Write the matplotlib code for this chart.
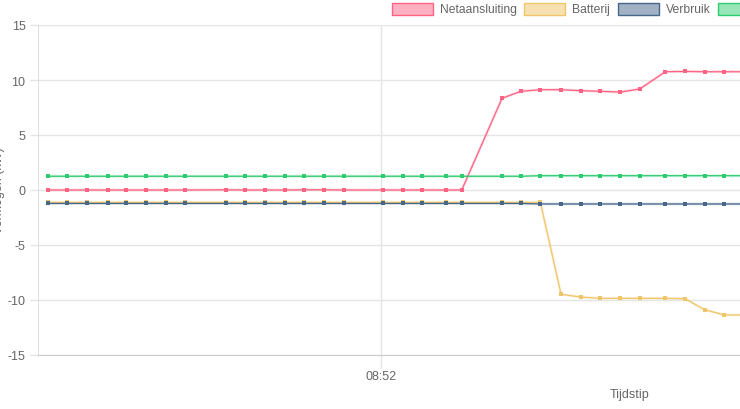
import matplotlib.pyplot as plt
from matplotlib.patches import Rectangle

plt.rcParams['font.family'] = ['Liberation Sans', 'DejaVu Sans']
plt.rcParams['axes.unicode_minus'] = False

# seconds after 08:51:00
times = [26.1, 28.1, 30.1, 32.2, 34.1, 36.1, 38.1, 40.1, 44.2, 46.2, 48.2, 50.2,
         52.2, 54.2, 56.2, 60.2, 62.2, 64.2, 66.6, 68.2, 72.3, 74.2, 76.2, 78.3,
         80.3, 82.3, 84.3, 86.3, 88.9, 90.9, 92.9, 94.9, 97.0]

netaansluiting = [0.0, 0.0, 0.0, 0.0, 0.0, 0.0, 0.0, 0.0, 0.02, 0.0, 0.0, 0.0,
                  0.02, 0.02, 0.0, 0.0, 0.0, 0.0, 0.0, 0.0, 8.34, 8.97, 9.12, 9.12,
                  9.03, 8.97, 8.9, 9.18, 10.75, 10.78, 10.75, 10.75, 10.75]
batterij = [-1.13, -1.13, -1.13, -1.13, -1.13, -1.13, -1.13, -1.13, -1.13, -1.13, -1.13, -1.13,
            -1.13, -1.13, -1.13, -1.13, -1.13, -1.13, -1.13, -1.13, -1.13, -1.13, -1.13, -9.48,
            -9.73, -9.85, -9.85, -9.85, -9.85, -9.88, -10.88, -11.36, -11.36]
verbruik = [-1.22, -1.22, -1.22, -1.22, -1.22, -1.22, -1.22, -1.22, -1.22, -1.22, -1.22, -1.22,
            -1.22, -1.22, -1.22, -1.22, -1.22, -1.22, -1.22, -1.22, -1.22, -1.22, -1.27, -1.27,
            -1.27, -1.27, -1.27, -1.27, -1.27, -1.27, -1.27, -1.27, -1.27]
opwek = [1.25, 1.25, 1.25, 1.25, 1.25, 1.25, 1.25, 1.25, 1.25, 1.25, 1.25, 1.25,
         1.25, 1.25, 1.25, 1.25, 1.25, 1.25, 1.25, 1.25, 1.25, 1.25, 1.3, 1.3,
         1.3, 1.3, 1.3, 1.3, 1.3, 1.3, 1.3, 1.3, 1.3]

labels = ['Netaansluiting', 'Batterij', 'Verbruik', 'Opwek']
colors = ['#ff6384', '#efc56a', '#46678a', '#2ecc71']
fills = ['#ffb1c1', '#f7e1b3', '#a0b2c4', '#97e5b8']
series = [netaansluiting, batterij, verbruik, opwek]

y_ticks = [-15, -10, -5, 0, 5, 10, 15]
x_ticks = [60]
x_tick_labels = ['08:52']

W, H = 740, 410
fig = plt.figure(figsize=(W / 100, H / 100), dpi=100)
ax = fig.add_axes([38 / W, 54 / H, 702 / W, 330 / H])

for values, color in zip(series, colors):
    ax.plot(times, values, color=color, lw=2.0, alpha=0.22, zorder=2)
    ax.plot(times, values, color=color, lw=0.9, marker='s', ms=2.2,
            markeredgewidth=0, zorder=3)

ax.set_xlim(25.1, 96.5)
ax.set_ylim(-15, 15)
ax.set_yticks(y_ticks)
ax.set_xticks(x_ticks)
ax.set_xticklabels(x_tick_labels)
ax.grid(color='#e5e5e5', lw=1)
ax.set_axisbelow(True)
ax.tick_params(axis='y', length=6, width=1, color='#e5e5e5', pad=3,
               labelsize=9, labelcolor='#666666')
ax.tick_params(axis='x', length=9, width=1, color='#e5e5e5', pad=2,
               labelsize=9, labelcolor='#666666')
for side in ['top', 'right']:
    ax.spines[side].set_visible(False)
ax.spines['left'].set_color('#e0e0e0')
ax.spines['bottom'].set_color('#cccccc')

# overlay in pixel coordinates for legend and axis titles
over = fig.add_axes([0, 0, 1, 1], facecolor='none')
over.set_xlim(0, W)
over.set_ylim(H, 0)
over.axis('off')

legend_x = [392, 524, 618, 718]
for lx, label, color, fill in zip(legend_x, labels, colors, fills):
    over.add_patch(Rectangle((lx, 4), 41, 12, facecolor=fill, edgecolor=color, lw=1))
    over.text(lx + 48, 10, label, ha='left', va='center', fontsize=8.7, color='#666666')

over.text(630, 395, 'Tijdstip', ha='center', va='center', fontsize=9, color='#666666')
over.text(-1, 191, 'Vermogen (kW)', ha='center', va='center', rotation=90,
          fontsize=9, color='#666666')

fig.savefig('out.png', dpi=100)
